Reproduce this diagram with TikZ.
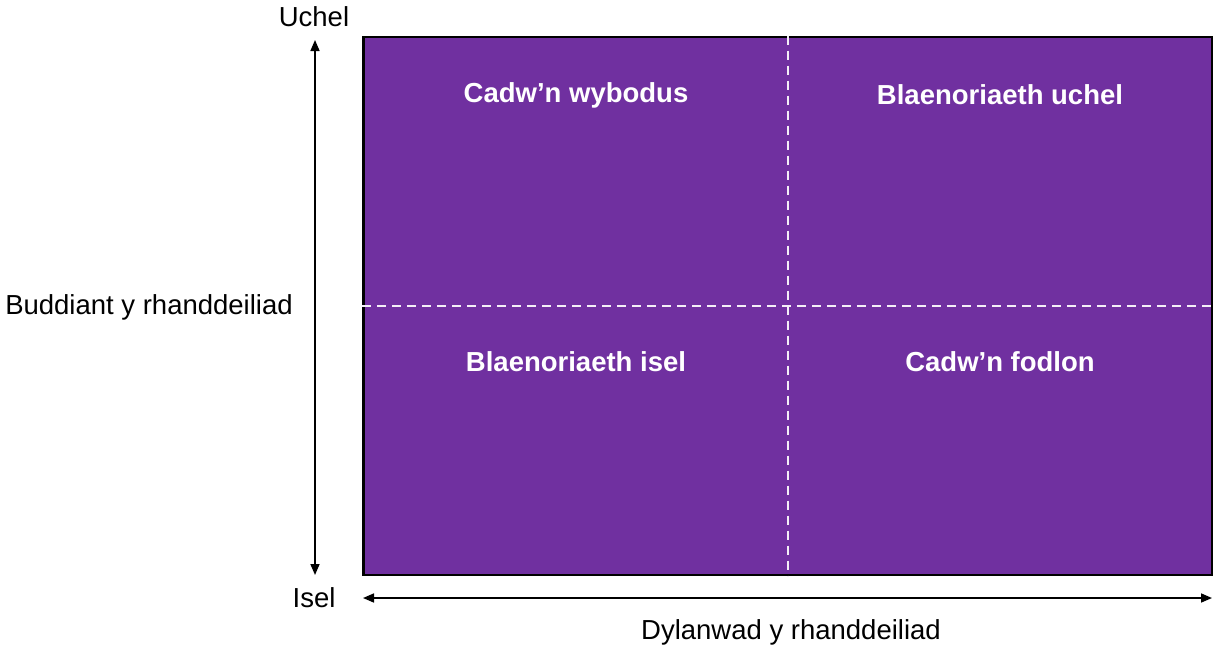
\documentclass[tikz,border=0pt]{standalone}
\usepackage{fontspec}
\setmainfont{Liberation Sans}
\usetikzlibrary{arrows.meta,positioning}
\definecolor{quadpurple}{HTML}{7030A0}
\tikzset{
  grid/.style={draw=black, fill=quadpurple, line width=2.8pt, rectangle, minimum width=849pt, minimum height=538pt, inner sep=0pt},
  qlbl/.style={font=\fontsize{27.5}{33}\selectfont\bfseries, text=white, inner sep=0pt},
  albl/.style={font=\fontsize{27.5}{33}\selectfont, inner sep=0pt},
  divl/.style={draw=white!92!quadpurple, line width=2.4pt, dash pattern=on 9pt off 6pt},
  arr/.style={{Triangle[length=11pt,width=9pt]}-{Triangle[length=11pt,width=9pt]}, line width=1.6pt},
}
\begin{document}
\begin{tikzpicture}[x=1pt,y=-1pt]
\useasboundingbox (0,0) rectangle (1213,648);

\node[grid] (grid) at (788,306) {};
\draw[divl] (grid.north) -- (grid.south);
\draw[divl] (grid.west) -- (grid.east);

\node[qlbl] (wybodus) at (576,95) {Cadw’n wybodus};
\node[qlbl] (uchel) at (1000,95) {Blaenoriaeth uchel};
\node[qlbl] (isel) at (576,362) {Blaenoriaeth isel};
\node[qlbl] (fodlon) at (1000,362) {Cadw’n fodlon};

\node[albl] (top) at (314,17) {Uchel};
\node[albl] (bot) at (314,598) {Isel};
\node[albl] (buddiant) at (149,307) {Buddiant y rhanddeiliad};
\node[albl] (dylanwad) at (791,632) {Dylanwad y rhanddeiliad};

\coordinate (vtop) at (315,40);
\coordinate (vbot) at (315,575);
\coordinate (hleft) at (363,598);
\coordinate (hright) at (1212,598);
\draw[arr] (vtop) -- (vbot);
\draw[arr] (hleft) -- (hright);

\end{tikzpicture}
\end{document}
